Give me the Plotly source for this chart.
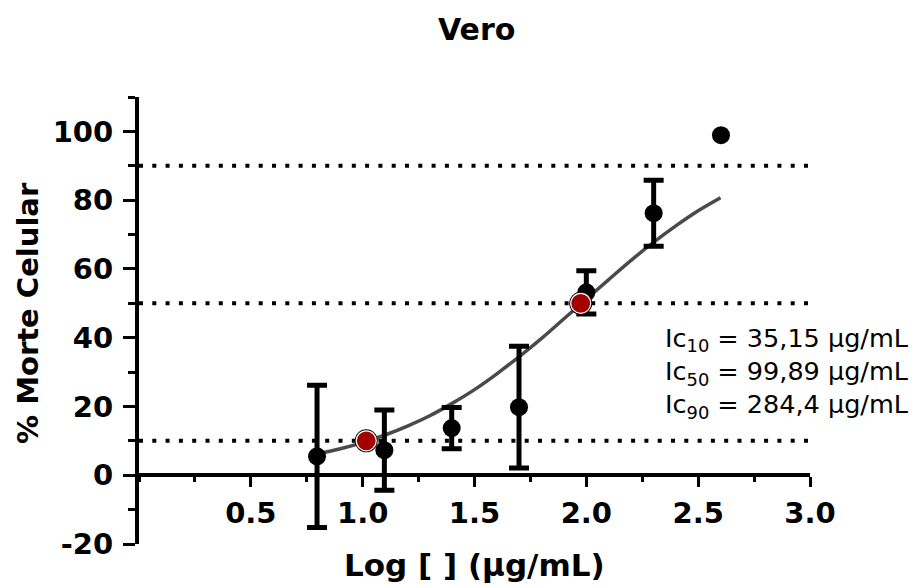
import plotly.graph_objects as go

# ---- data ----
log_conc = [0.796, 1.097, 1.398, 1.699, 2.0, 2.301]
mean_death = [5.5, 7.3, 13.7, 19.8, 53.2, 76.2]
sd_death = [20.7, 11.7, 6.0, 17.7, 6.3, 9.6]

# highest concentration has no visible error bar
top_conc = [2.602]
top_death = [98.9]

fit_x = [0.8, 0.9, 1.0, 1.1, 1.2, 1.3, 1.4, 1.5, 1.6, 1.7, 1.8, 1.9, 2.0, 2.1, 2.2, 2.3, 2.4, 2.5, 2.6]
fit_y = [6.2, 7.7, 9.5, 11.7, 14.3, 17.3, 20.9, 24.9, 29.5, 34.5, 39.8, 45.5, 51.2, 56.9, 62.5, 67.7, 72.5, 76.9, 80.7]

ic_marker_x = [1.016, 1.975]
ic_marker_y = [10, 50]
threshold_levels = [10, 50, 90]

x_tick_vals = [0.5, 1.0, 1.5, 2.0, 2.5, 3.0]
x_tick_text = ["0.5", "1.0", "1.5", "2.0", "2.5", "3.0"]
y_tick_vals = [-20, 0, 20, 40, 60, 80, 100]
y_tick_text = ["-20", "0", "20", "40", "60", "80", "100"]

ic_labels = ["Ic<sub>10</sub> = 35,15 μg/mL",
             "Ic<sub>50</sub> = 99,89 μg/mL",
             "Ic<sub>90</sub> = 284,4 μg/mL"]

title_text = "Vero"
x_title = "Log [ ] (μg/mL)"
y_title = "% Morte Celular"

X_RANGE = [0, 3.0]
Y_RANGE = [-20, 110]

FONT = "DejaVu Sans"

fig = go.Figure()

# fitted curve
fig.add_trace(go.Scatter(
    x=fit_x, y=fit_y, mode="lines",
    line=dict(color="#4a4a4a", width=3.5, shape="spline"),
    hoverinfo="skip", showlegend=False))

# data points with SD error bars
fig.add_trace(go.Scatter(
    x=log_conc, y=mean_death, mode="markers",
    marker=dict(color="black", size=18),
    error_y=dict(type="data", array=sd_death, visible=True,
                 color="black", thickness=5, width=10),
    showlegend=False))
fig.add_trace(go.Scatter(
    x=top_conc, y=top_death, mode="markers",
    marker=dict(color="black", size=18),
    showlegend=False))

# IC markers (red)
fig.add_trace(go.Scatter(
    x=ic_marker_x, y=ic_marker_y, mode="markers",
    marker=dict(color="black", size=23),
    hoverinfo="skip", showlegend=False))
fig.add_trace(go.Scatter(
    x=ic_marker_x, y=ic_marker_y, mode="markers",
    marker=dict(color="#a30000", size=20, line=dict(color="white", width=1.2)),
    showlegend=False))

# dotted threshold lines
for lvl in threshold_levels:
    fig.add_shape(type="line", xref="paper", x0=0, x1=1, yref="y", y0=lvl, y1=lvl,
                  line=dict(color="black", width=4, dash="4px,9.3px"),
                  layer="below")

# y axis position of 0 inside range
zero_frac = (0 - Y_RANGE[0]) / (Y_RANGE[1] - Y_RANGE[0])

fig.update_layout(
    template="none",
    width=914, height=587,
    margin=dict(l=139, r=104, t=97, b=43, autoexpand=False),
    paper_bgcolor="white", plot_bgcolor="white",
    showlegend=False,
    font=dict(family=FONT, color="black"),
    xaxis=dict(
        range=X_RANGE, anchor="free", position=zero_frac,
        showgrid=False, zeroline=False, automargin=False,
        showline=True, linecolor="black", linewidth=4,
        tickmode="array", tickvals=x_tick_vals, ticktext=x_tick_text,
        ticks="outside", ticklen=10, tickwidth=3, tickcolor="black",
        tickfont=dict(family=FONT, size=29, color="black", weight="bold"),
        ticklabelstandoff=1,
        minor=dict(dtick=0.25, tick0=0, ticks="outside", ticklen=5,
                   tickwidth=3, tickcolor="black", showgrid=False),
    ),
    yaxis=dict(
        range=Y_RANGE, domain=[0, 1],
        showgrid=False, zeroline=False, automargin=False,
        showline=True, linecolor="black", linewidth=4,
        tickmode="array", tickvals=y_tick_vals, ticktext=y_tick_text,
        ticks="outside", ticklen=12, tickwidth=3, tickcolor="black",
        tickfont=dict(family=FONT, size=29, color="black", weight="bold"),
        ticklabelstandoff=4,
        minor=dict(dtick=10, tick0=0, ticks="outside", ticklen=7,
                   tickwidth=3, tickcolor="black", showgrid=False),
    ),
)

annotations = [
    dict(text="<b>" + title_text + "</b>", xref="paper", yref="paper",
         x=(476 - 139) / 671, y=(544 - 30) / 447, xanchor="center", yanchor="middle",
         showarrow=False, font=dict(family=FONT, size=30, color="black")),
    dict(text="<b>" + x_title + "</b>", xref="paper", yref="paper",
         x=(474 - 139) / 671, y=(544 - 565) / 447, xanchor="center", yanchor="middle",
         showarrow=False, font=dict(family=FONT, size=31, color="black")),
    dict(text="<b>" + y_title + "</b>", xref="paper", yref="paper",
         x=(28 - 139) / 671, y=(544 - 313) / 447, xanchor="center", yanchor="middle",
         textangle=-90,
         showarrow=False, font=dict(family=FONT, size=29, color="black")),
    dict(text="<br>".join(ic_labels), xref="paper", yref="paper",
         x=(911 - 139) / 671, y=(544 - 321) / 447, xanchor="right", yanchor="top",
         align="right", showarrow=False,
         font=dict(family=FONT, size=25.5, color="black")),
]
fig.update_layout(annotations=annotations)

fig.write_html("out.html")
